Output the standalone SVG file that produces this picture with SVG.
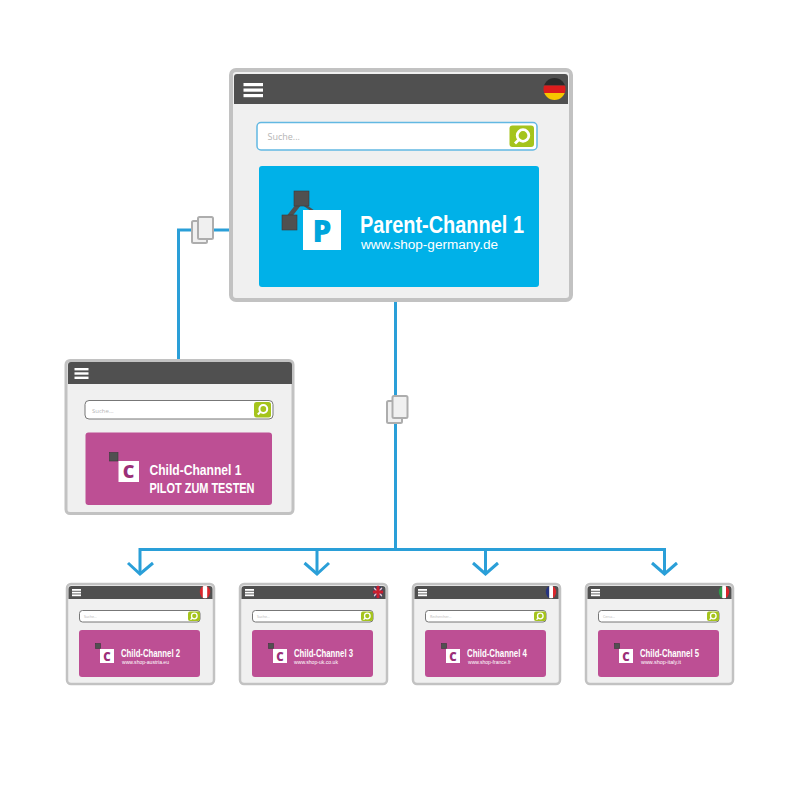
<svg xmlns="http://www.w3.org/2000/svg" xmlns:xlink="http://www.w3.org/1999/xlink" width="800" height="804" viewBox="0 0 800 804">
<style>
.frame{fill:#f0f0f0;stroke:#c2c2c2}
.head{fill:#505050}
.bar{fill:#fff}
.green{fill:#a5c41c}
.lens{fill:none;stroke:#fff}
.mag{fill:#bd4f94}
.dark{fill:#505050;stroke:#3a3a3a;stroke-width:.6}
.white{fill:#fff}
.t{font-family:"Liberation Sans",Arial,sans-serif;fill:#fff;font-weight:700}
.u{font-family:"Liberation Sans",Arial,sans-serif;fill:#fff;font-weight:400}
.s{font-family:"Open Sans","Noto Sans",sans-serif;fill:#b5b5b5}
.c{font-family:"Open Sans","Noto Sans",sans-serif;font-weight:800;text-anchor:middle;fill:#9b2f78}
.conn{fill:none;stroke:#2a9fd8;stroke-width:3}
.doc{fill:#f0f0f0;stroke:#adadad;stroke-width:2}
</style>
<defs>
<clipPath id="fg"><circle cx="554.500" cy="89" r="11"/></clipPath>
<clipPath id="fs"><ellipse cx="139" cy="9" rx="5.200" ry="6.300"/></clipPath>
<g id="small">
<rect class="frame" x="1" y="1" width="147" height="100" rx="4" stroke-width="2.500"/>
<path class="head" d="M2.500 6a3 3 0 0 1 3-3h138a3 3 0 0 1 3 3v10h-144z"/>
<rect class="bar" x="6" y="6" width="9" height="1.800"/><rect class="bar" x="6" y="8.700" width="9" height="1.800"/><rect class="bar" x="6" y="11.400" width="9" height="1.800"/>
<rect x="13.500" y="27.500" width="120.500" height="11.500" rx="3" fill="#fff" stroke="#777" stroke-width="1"/>
<rect class="green" x="122" y="28.500" width="12" height="9.500" rx="2"/>
<circle class="lens" cx="128.300" cy="33" r="2.800" stroke-width="1.300"/>
<path class="lens" d="M126.300 35l-1.800 1.800" stroke-width="1.300"/>
<rect class="mag" x="13" y="47" width="121" height="47" rx="3"/>
<rect class="dark" x="29.500" y="60.500" width="5" height="5"/>
<rect class="white" x="34" y="66" width="14" height="14"/>
<text class="c" x="41" y="77.500" font-size="11.500">C</text>
</g>
</defs>

<g id="connectors">
<path class="conn" d="M229 230H178.500V359"/>
<path class="conn" d="M395.500 302V549.500"/>
<path class="conn" d="M140 573V549.500H664.500V573M317 549.500V573M485.500 549.500V573"/>
<path class="conn" d="M128 563L140 574L153 563M304.500 563L317 574L329 563M473 563L485.500 574L498 563M652 563L664.500 574L677 563"/>
<g id="doc-left"><rect class="doc" x="192" y="221" width="15" height="22" rx="1.500"/><rect class="doc" x="198" y="217" width="15" height="22" rx="1.500"/></g>
<g id="doc-center"><rect class="doc" x="387" y="401" width="15" height="22" rx="1.500"/><rect class="doc" x="392.500" y="396" width="15" height="22" rx="1.500"/></g>
</g>

<g id="parent-channel-1">
<rect class="frame" x="231" y="70" width="340" height="230" rx="5" stroke-width="4"/>
<path class="head" d="M234 77a3 3 0 0 1 3-3h328a3 3 0 0 1 3 3v27h-334z"/>
<rect class="bar" x="243.500" y="83" width="19.500" height="3.200"/><rect class="bar" x="243.500" y="88.500" width="19.500" height="3.200"/><rect class="bar" x="243.500" y="94" width="19.500" height="3.200"/>
<g clip-path="url(#fg)"><rect x="543" y="78" width="23" height="7.500" fill="#2a2a2a"/><rect x="543" y="85.500" width="23" height="7.500" fill="#dd1c1c"/><rect x="543" y="93" width="23" height="7.500" fill="#f7c600"/></g>
<rect x="257" y="122.500" width="280" height="27.500" rx="4" fill="#fff" stroke="#62b8e2" stroke-width="1.500"/>
<text class="s" x="267.500" y="140" font-size="9">Suche...</text>
<rect class="green" x="509.500" y="125.500" width="24.500" height="21.500" rx="3"/>
<circle class="lens" cx="523" cy="135.500" r="5.800" stroke-width="2.800"/>
<path class="lens" d="M518.500 140l-3.500 3.500" stroke-width="2.800"/>
<rect x="259" y="166" width="280" height="121" rx="3" fill="#00b1e8"/>
<path d="M299 204L288 218" fill="none" stroke="#505050" stroke-width="4.500"/>
<path d="M303 204L313 211" fill="none" stroke="#505050" stroke-width="2.500"/>
<rect class="dark" x="294" y="191" width="15" height="15"/>
<rect class="dark" x="282" y="215" width="15" height="15"/>
<rect class="white" x="303" y="210" width="38" height="40"/>
<text x="322" y="242" font-family="Open Sans,Noto Sans,sans-serif" font-weight="800" font-size="30" text-anchor="middle" fill="#00a5dc">P</text>
<text class="t" x="360" y="232.500" font-size="24" textLength="164" lengthAdjust="spacingAndGlyphs">Parent-Channel 1</text>
<text class="u" x="361" y="248.500" font-size="12.500" font-weight="700" textLength="137" lengthAdjust="spacingAndGlyphs">www.shop-germany.de</text>
</g>

<g id="child-channel-1">
<rect class="frame" x="66" y="360.500" width="227" height="153" rx="4" stroke-width="3"/>
<path class="head" d="M68 365a3 3 0 0 1 3-3h218a3 3 0 0 1 3 3v19h-224z"/>
<rect class="bar" x="74.500" y="368" width="14" height="2.400"/><rect class="bar" x="74.500" y="372.300" width="14" height="2.400"/><rect class="bar" x="74.500" y="376.600" width="14" height="2.400"/>
<rect x="85" y="400.500" width="188" height="18.500" rx="4" fill="#fff" stroke="#777" stroke-width="1"/>
<text class="s" x="92" y="412.500" font-size="6">Suche...</text>
<rect class="green" x="254" y="402" width="17" height="15.500" rx="2.500"/>
<circle class="lens" cx="263.300" cy="409" r="3.900" stroke-width="2"/>
<path class="lens" d="M260.300 412l-2.500 2.500" stroke-width="2"/>
<rect class="mag" x="85.500" y="432.500" width="186.500" height="72.500" rx="3"/>
<rect class="dark" x="109.500" y="452.500" width="8.500" height="8.500"/>
<rect class="white" x="118.500" y="461" width="20.500" height="21"/>
<text class="c" x="128.700" y="478" font-size="18">C</text>
<text class="t" x="149.500" y="475" font-size="15.500" textLength="92" lengthAdjust="spacingAndGlyphs">Child-Channel 1</text>
<text class="t" x="149.500" y="492.500" font-size="15.500" textLength="105" lengthAdjust="spacingAndGlyphs">PILOT ZUM TESTEN</text>
</g>

<g id="child-channel-2" transform="translate(66 583)">
<use xlink:href="#small" href="#small"/>
<g clip-path="url(#fs)"><rect x="133" y="2" width="12" height="14" fill="#d9262c"/><rect x="136.800" y="2" width="4.400" height="14" fill="#fff"/></g>
<text class="s" x="18" y="35" font-size="3.500">Suche...</text>
<text class="t" x="55" y="73.800" font-size="10.500" textLength="59" lengthAdjust="spacingAndGlyphs">Child-Channel 2</text>
<text class="u" x="56" y="81" font-size="5.500" textLength="47" lengthAdjust="spacingAndGlyphs">www.shop-austria.eu</text>
</g>

<g id="child-channel-3" transform="translate(239 583)">
<use xlink:href="#small" href="#small"/>
<g clip-path="url(#fs)"><rect x="133" y="2" width="12" height="14" fill="#3a3f66"/><path d="M133 3L145 15M145 3L133 15" stroke="#e9c9cc" stroke-width="1.500"/><path d="M139 2V16M133 9H145" stroke="#c9202f" stroke-width="3"/></g>
<text class="s" x="18" y="35" font-size="3.500">Suche...</text>
<text class="t" x="55" y="73.800" font-size="10.500" textLength="59" lengthAdjust="spacingAndGlyphs">Child-Channel 3</text>
<text class="u" x="55" y="81" font-size="5.500" textLength="44" lengthAdjust="spacingAndGlyphs">www.shop-uk.co.uk</text>
</g>

<g id="child-channel-4" transform="translate(412 583)">
<use xlink:href="#small" href="#small"/>
<g clip-path="url(#fs)"><rect x="133" y="2" width="4.200" height="14" fill="#26337f"/><rect x="137.200" y="2" width="3.800" height="14" fill="#fff"/><rect x="141" y="2" width="4.200" height="14" fill="#d9262c"/></g>
<text class="s" x="18" y="35" font-size="3.500">Rechercher...</text>
<text class="t" x="55" y="73.800" font-size="10.500" textLength="60" lengthAdjust="spacingAndGlyphs">Child-Channel 4</text>
<text class="u" x="56" y="81" font-size="5.500" textLength="43" lengthAdjust="spacingAndGlyphs">www.shop-france.fr</text>
</g>

<g id="child-channel-5" transform="translate(585 583)">
<use xlink:href="#small" href="#small"/>
<g clip-path="url(#fs)"><rect x="133" y="2" width="4.200" height="14" fill="#2f9a4a"/><rect x="137.200" y="2" width="3.800" height="14" fill="#fff"/><rect x="141" y="2" width="4.200" height="14" fill="#d9262c"/></g>
<text class="s" x="18" y="35" font-size="3.500">Cerca...</text>
<text class="t" x="55" y="73.800" font-size="10.500" textLength="59" lengthAdjust="spacingAndGlyphs">Child-Channel 5</text>
<text class="u" x="56" y="81" font-size="5.500" textLength="40" lengthAdjust="spacingAndGlyphs">www.shop-italy.it</text>
</g>
</svg>
